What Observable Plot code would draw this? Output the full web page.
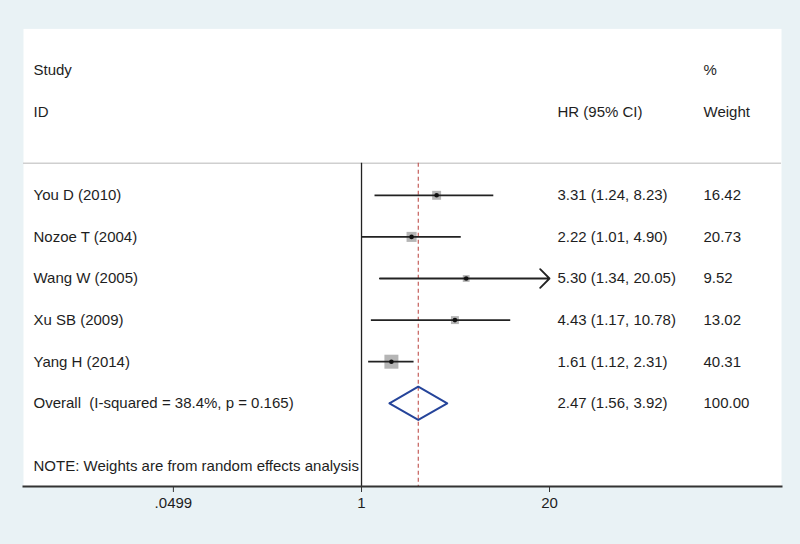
<!DOCTYPE html>
<html><head><meta charset="utf-8">
<script src="https://cdn.jsdelivr.net/npm/d3@7"></script>
<script src="https://cdn.jsdelivr.net/npm/@observablehq/plot@0.6"></script>
<style>
html,body{margin:0;padding:0;background:#e9f2f5;}
#chart svg{display:block}
</style></head><body><div id="chart"></div>
<script>
// ---- data ----
const studies = ["You D (2010)", "Nozoe T (2004)", "Wang W (2005)", "Xu SB (2009)", "Yang H (2014)"];
const hr      = [3.31, 2.22, 5.30, 4.43, 1.61];
const lower   = [1.24, 1.01, 1.34, 1.17, 1.12];
const upper   = [8.23, 4.90, 20.05, 10.78, 2.31];
const weight  = [16.42, 20.73, 9.52, 13.02, 40.31];
const overallLabel = "Overall\u00a0 (I-squared = 38.4%, p = 0.165)";
const overallHR = 2.47, overallLower = 1.56, overallUpper = 3.92, overallWeight = 100.00;
const tickValues = [0.0499, 1, 20];
const tickLabels = [".0499", "1", "20"];
const headerLeft = ["Study", "ID"];
const headerHR = "HR (95% CI)";
const headerWeight = ["%", "Weight"];
const note = "NOTE: Weights are from random effects analysis";

// ---- derived tables ----
const rows = studies.map((s, i) => ({study: s, row: i, hr: hr[i], lo: lower[i], hi: upper[i], w: weight[i]}));
const ovRow = studies.length;
const axisMax = d3.max(tickValues);
const allRows = [...rows, {study: overallLabel, row: ovRow, hr: overallHR, lo: overallLower, hi: overallUpper, w: overallWeight}];
const ticks = tickValues.map((v, i) => ({v, label: tickLabels[i]}));
const fmt = v => v.toFixed(2);
const diamond = [
  {x: overallLower, y: ovRow}, {x: overallHR, y: ovRow - 0.4},
  {x: overallUpper, y: ovRow}, {x: overallHR, y: ovRow + 0.4},
  {x: overallLower, y: ovRow}
];
const sepRow = -0.77, bottomRow = 7;
const txt = "#1e1e1e";

const chart = Plot.plot({
  width: 800, height: 544,
  marginLeft: 23, marginRight: 19, marginTop: 28.4, marginBottom: 58,
  style: {fontFamily: "'Liberation Sans', Arial, sans-serif", fontSize: "15px", background: "#e9f2f5", color: txt},
  x: {type: "log", domain: [0.00458, 806]},
  y: {domain: [-4, bottomRow], reverse: true, axis: null},
  r: {type: "sqrt", domain: [0, d3.max(weight)], range: [0, 7.9]},
  marks: [
    Plot.frame({fill: "white", stroke: null}),
    Plot.ruleY([sepRow], {stroke: "#cfcfcf", strokeWidth: 1.5}),
    Plot.ruleX([1], {y1: sepRow, y2: bottomRow, stroke: "#222", strokeWidth: 1.3}),
    Plot.ruleX([overallHR], {y1: sepRow, y2: bottomRow, stroke: "#c0504d", strokeWidth: 1.1, strokeDasharray: "4,3"}),
    Plot.dot(rows, {x: "hr", y: "row", r: "w", symbol: "square", fill: "#b5b5b5"}),
    Plot.ruleY(rows.filter(d => d.hi <= axisMax), {y: "row", x1: "lo", x2: "hi", stroke: "#222", strokeWidth: 1.8}),
    Plot.arrow(rows.filter(d => d.hi > axisMax), {x1: "lo", x2: d => Math.min(d.hi, axisMax), y1: "row", y2: "row", stroke: "#222", strokeWidth: 1.8, headLength: 11, headAngle: 90}),
    Plot.dot(rows, {x: "hr", y: "row", r: 2.3, fill: "#111"}),
    Plot.line(diamond, {x: "x", y: "y", stroke: "#25449a", strokeWidth: 2}),
    // headers
    Plot.text(headerLeft, {y: (d, i) => -3 + i, text: d => d, frameAnchor: "left", dx: 10, fill: txt}),
    Plot.text([headerHR], {y: () => -2, text: d => d, frameAnchor: "left", dx: 534, fill: txt}),
    Plot.text(headerWeight, {y: (d, i) => -3 + i, text: d => d, frameAnchor: "left", dx: 680, fill: txt}),
    // study rows
    Plot.text(allRows, {y: "row", text: "study", frameAnchor: "left", dx: 10, fill: txt}),
    Plot.text(allRows, {y: "row", text: d => `${fmt(d.hr)} (${fmt(d.lo)}, ${fmt(d.hi)})`, frameAnchor: "left", dx: 534, fill: txt}),
    Plot.text(allRows, {y: "row", text: d => fmt(d.w), frameAnchor: "left", dx: 680, fill: txt}),
    Plot.text([note], {y: () => ovRow + 1.5, text: d => d, frameAnchor: "left", dx: 10, fill: txt}),
    // axis
    Plot.axisX({ticks: tickValues, tickFormat: () => "", tickSize: 6, label: null, stroke: "#333"}),
    Plot.text(ticks, {x: "v", text: "label", frameAnchor: "bottom", dy: 21, fill: txt}),
    Plot.frame({anchor: "bottom", stroke: "#333", strokeWidth: 2})
  ]
});
document.getElementById("chart").appendChild(chart);
</script></body></html>
